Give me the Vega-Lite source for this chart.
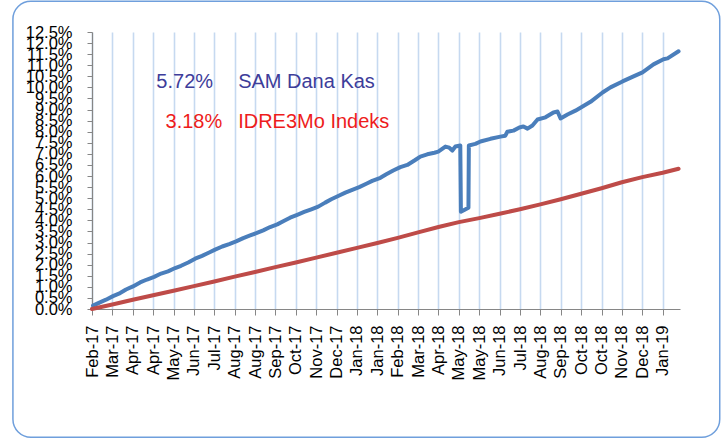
{
  "$schema": "https://vega.github.io/schema/vega-lite/v6.json",
  "autosize": "none",
  "width": 588,
  "height": 277,
  "padding": {"left": 92, "top": 32, "right": 45, "bottom": 130},
  "background": "white",
  "view": {"stroke": null},
  "config": {"font": "Liberation Sans"},
  "datasets": {
    "frame": [{"i": -3.88, "i2": 30.8, "v": 13.89, "v2": -5.79}],
    "notes": [
      {"label": "5.72%", "i": 5.94, "v": 10.23, "kind": "blue", "side": "right"},
      {"label": "SAM Dana Kas", "i": 7.17, "v": 10.23, "kind": "blue", "side": "left"},
      {"label": "3.18%", "i": 6.39, "v": 8.46, "kind": "red", "side": "right"},
      {"label": "IDRE3Mo Indeks", "i": 7.17, "v": 8.46, "kind": "red", "side": "left"}
    ],
    "series": [
      {"series": "SAM Dana Kas", "i": 0.05, "v": 0.15},
      {"series": "SAM Dana Kas", "i": 0.39, "v": 0.3},
      {"series": "SAM Dana Kas", "i": 0.69, "v": 0.42},
      {"series": "SAM Dana Kas", "i": 1.03, "v": 0.58},
      {"series": "SAM Dana Kas", "i": 1.38, "v": 0.72},
      {"series": "SAM Dana Kas", "i": 1.67, "v": 0.88},
      {"series": "SAM Dana Kas", "i": 2.01, "v": 1.02},
      {"series": "SAM Dana Kas", "i": 2.36, "v": 1.2},
      {"series": "SAM Dana Kas", "i": 2.7, "v": 1.33},
      {"series": "SAM Dana Kas", "i": 3.05, "v": 1.45},
      {"series": "SAM Dana Kas", "i": 3.39, "v": 1.6},
      {"series": "SAM Dana Kas", "i": 3.73, "v": 1.7},
      {"series": "SAM Dana Kas", "i": 4.08, "v": 1.85},
      {"series": "SAM Dana Kas", "i": 4.37, "v": 1.95},
      {"series": "SAM Dana Kas", "i": 4.72, "v": 2.1},
      {"series": "SAM Dana Kas", "i": 5.06, "v": 2.27},
      {"series": "SAM Dana Kas", "i": 5.4, "v": 2.4},
      {"series": "SAM Dana Kas", "i": 5.75, "v": 2.55},
      {"series": "SAM Dana Kas", "i": 6.04, "v": 2.68},
      {"series": "SAM Dana Kas", "i": 6.39, "v": 2.82},
      {"series": "SAM Dana Kas", "i": 6.73, "v": 2.93},
      {"series": "SAM Dana Kas", "i": 7.07, "v": 3.05},
      {"series": "SAM Dana Kas", "i": 7.42, "v": 3.2},
      {"series": "SAM Dana Kas", "i": 7.76, "v": 3.32},
      {"series": "SAM Dana Kas", "i": 8.06, "v": 3.42},
      {"series": "SAM Dana Kas", "i": 8.4, "v": 3.55},
      {"series": "SAM Dana Kas", "i": 8.74, "v": 3.7},
      {"series": "SAM Dana Kas", "i": 9.09, "v": 3.82},
      {"series": "SAM Dana Kas", "i": 9.43, "v": 3.98},
      {"series": "SAM Dana Kas", "i": 9.72, "v": 4.12},
      {"series": "SAM Dana Kas", "i": 10.07, "v": 4.25},
      {"series": "SAM Dana Kas", "i": 10.41, "v": 4.38},
      {"series": "SAM Dana Kas", "i": 10.76, "v": 4.5},
      {"series": "SAM Dana Kas", "i": 11.1, "v": 4.62},
      {"series": "SAM Dana Kas", "i": 11.44, "v": 4.8},
      {"series": "SAM Dana Kas", "i": 11.74, "v": 4.95},
      {"series": "SAM Dana Kas", "i": 12.08, "v": 5.1},
      {"series": "SAM Dana Kas", "i": 12.43, "v": 5.25},
      {"series": "SAM Dana Kas", "i": 12.77, "v": 5.38},
      {"series": "SAM Dana Kas", "i": 13.11, "v": 5.5},
      {"series": "SAM Dana Kas", "i": 13.46, "v": 5.65},
      {"series": "SAM Dana Kas", "i": 13.75, "v": 5.78},
      {"series": "SAM Dana Kas", "i": 14.15, "v": 5.92},
      {"series": "SAM Dana Kas", "i": 14.44, "v": 6.08},
      {"series": "SAM Dana Kas", "i": 14.78, "v": 6.25},
      {"series": "SAM Dana Kas", "i": 15.13, "v": 6.4},
      {"series": "SAM Dana Kas", "i": 15.47, "v": 6.5},
      {"series": "SAM Dana Kas", "i": 15.82, "v": 6.7},
      {"series": "SAM Dana Kas", "i": 16.11, "v": 6.88},
      {"series": "SAM Dana Kas", "i": 16.45, "v": 6.98},
      {"series": "SAM Dana Kas", "i": 16.8, "v": 7.05},
      {"series": "SAM Dana Kas", "i": 16.99, "v": 7.1},
      {"series": "SAM Dana Kas", "i": 17.34, "v": 7.33},
      {"series": "SAM Dana Kas", "i": 17.53, "v": 7.28},
      {"series": "SAM Dana Kas", "i": 17.68, "v": 7.15},
      {"series": "SAM Dana Kas", "i": 17.83, "v": 7.33},
      {"series": "SAM Dana Kas", "i": 18.07, "v": 7.38},
      {"series": "SAM Dana Kas", "i": 18.1, "v": 4.39},
      {"series": "SAM Dana Kas", "i": 18.47, "v": 4.57},
      {"series": "SAM Dana Kas", "i": 18.49, "v": 7.38},
      {"series": "SAM Dana Kas", "i": 18.81, "v": 7.45},
      {"series": "SAM Dana Kas", "i": 19.06, "v": 7.56},
      {"series": "SAM Dana Kas", "i": 19.55, "v": 7.68},
      {"series": "SAM Dana Kas", "i": 20.04, "v": 7.78},
      {"series": "SAM Dana Kas", "i": 20.28, "v": 7.82},
      {"series": "SAM Dana Kas", "i": 20.38, "v": 8.0},
      {"series": "SAM Dana Kas", "i": 20.68, "v": 8.05},
      {"series": "SAM Dana Kas", "i": 20.97, "v": 8.19},
      {"series": "SAM Dana Kas", "i": 21.17, "v": 8.24},
      {"series": "SAM Dana Kas", "i": 21.37, "v": 8.14},
      {"series": "SAM Dana Kas", "i": 21.61, "v": 8.28},
      {"series": "SAM Dana Kas", "i": 21.86, "v": 8.55},
      {"series": "SAM Dana Kas", "i": 22.25, "v": 8.65},
      {"series": "SAM Dana Kas", "i": 22.64, "v": 8.87},
      {"series": "SAM Dana Kas", "i": 22.84, "v": 8.91},
      {"series": "SAM Dana Kas", "i": 22.99, "v": 8.6},
      {"series": "SAM Dana Kas", "i": 23.33, "v": 8.78},
      {"series": "SAM Dana Kas", "i": 23.72, "v": 8.95},
      {"series": "SAM Dana Kas", "i": 24.07, "v": 9.14},
      {"series": "SAM Dana Kas", "i": 24.46, "v": 9.35},
      {"series": "SAM Dana Kas", "i": 25.05, "v": 9.77},
      {"series": "SAM Dana Kas", "i": 25.44, "v": 10.0},
      {"series": "SAM Dana Kas", "i": 26.03, "v": 10.27},
      {"series": "SAM Dana Kas", "i": 26.57, "v": 10.5},
      {"series": "SAM Dana Kas", "i": 27.01, "v": 10.68},
      {"series": "SAM Dana Kas", "i": 27.55, "v": 11.04},
      {"series": "SAM Dana Kas", "i": 28.04, "v": 11.27},
      {"series": "SAM Dana Kas", "i": 28.24, "v": 11.31},
      {"series": "SAM Dana Kas", "i": 28.78, "v": 11.63},
      {"series": "IDRE3Mo Indeks", "i": 0.0, "v": 0.0},
      {"series": "IDRE3Mo Indeks", "i": 1, "v": 0.2},
      {"series": "IDRE3Mo Indeks", "i": 2, "v": 0.42},
      {"series": "IDRE3Mo Indeks", "i": 3, "v": 0.62},
      {"series": "IDRE3Mo Indeks", "i": 4, "v": 0.82},
      {"series": "IDRE3Mo Indeks", "i": 5, "v": 1.03},
      {"series": "IDRE3Mo Indeks", "i": 6, "v": 1.24},
      {"series": "IDRE3Mo Indeks", "i": 7, "v": 1.46},
      {"series": "IDRE3Mo Indeks", "i": 8, "v": 1.67},
      {"series": "IDRE3Mo Indeks", "i": 9, "v": 1.89},
      {"series": "IDRE3Mo Indeks", "i": 10, "v": 2.1},
      {"series": "IDRE3Mo Indeks", "i": 11, "v": 2.32},
      {"series": "IDRE3Mo Indeks", "i": 12, "v": 2.54},
      {"series": "IDRE3Mo Indeks", "i": 13, "v": 2.76},
      {"series": "IDRE3Mo Indeks", "i": 14, "v": 2.98},
      {"series": "IDRE3Mo Indeks", "i": 15, "v": 3.21},
      {"series": "IDRE3Mo Indeks", "i": 16, "v": 3.46},
      {"series": "IDRE3Mo Indeks", "i": 17, "v": 3.7},
      {"series": "IDRE3Mo Indeks", "i": 18, "v": 3.92},
      {"series": "IDRE3Mo Indeks", "i": 19, "v": 4.1},
      {"series": "IDRE3Mo Indeks", "i": 20, "v": 4.3},
      {"series": "IDRE3Mo Indeks", "i": 21, "v": 4.5},
      {"series": "IDRE3Mo Indeks", "i": 22, "v": 4.72},
      {"series": "IDRE3Mo Indeks", "i": 23, "v": 4.95},
      {"series": "IDRE3Mo Indeks", "i": 24, "v": 5.2},
      {"series": "IDRE3Mo Indeks", "i": 25, "v": 5.45},
      {"series": "IDRE3Mo Indeks", "i": 26, "v": 5.72},
      {"series": "IDRE3Mo Indeks", "i": 27, "v": 5.95},
      {"series": "IDRE3Mo Indeks", "i": 28, "v": 6.15},
      {"series": "IDRE3Mo Indeks", "i": 28.78, "v": 6.33}
    ]
  },
  "encoding": {
    "x": {
      "field": "i",
      "type": "quantitative",
      "scale": {"domain": [0, 28.85], "nice": false, "zero": false},
      "axis": {
        "title": null,
        "values": [0,1,2,3,4,5,6,7,8,9,10,11,12,13,14,15,16,17,18,19,20,21,22,23,24,25,26,27,28],
        "labelExpr": "['Feb-17','Mar-17','Apr-17','Apr-17','May-17','Jun-17','Jul-17','Aug-17','Aug-17','Sep-17','Oct-17','Nov-17','Dec-17','Jan-18','Jan-18','Feb-18','Mar-18','Apr-18','May-18','May-18','Jun-18','Jul-18','Aug-18','Sep-18','Oct-18','Oct-18','Nov-18','Dec-18','Jan-19'][datum.value]",
        "labelAngle": -90,
        "labelAlign": "right",
        "labelBaseline": "middle",
        "labelFontSize": 16.5,
        "labelFont": "Liberation Sans",
        "labelColor": "#000000",
        "labelPadding": 10,
        "labelOverlap": false,
        "labelFlush": false,
        "labelBound": false,
        "tickSize": 6,
        "tickColor": "#868686",
        "domainColor": "#868686",
        "domainWidth": 1.2,
        "grid": true,
        "gridColor": "#c6d9f0",
        "gridWidth": 1.6
      }
    },
    "y": {
      "field": "v",
      "type": "quantitative",
      "scale": {"domain": [0, 12.5], "nice": false, "zero": false},
      "axis": {
        "title": null,
        "values": [0,0.5,1,1.5,2,2.5,3,3.5,4,4.5,5,5.5,6,6.5,7,7.5,8,8.5,9,9.5,10,10.5,11,11.5,12,12.5],
        "labelExpr": "format(datum.value, '.1f') + '%'",
        "labelFontSize": 16.5,
        "labelFont": "Liberation Sans",
        "labelColor": "#000000",
        "labelPadding": 15,
        "labelOverlap": false,
        "labelFlush": false,
        "labelBound": false,
        "tickSize": 5,
        "tickColor": "#868686",
        "domainColor": "#868686",
        "domainWidth": 1.2,
        "grid": false
      }
    }
  },
  "layer": [
    {
      "data": {"name": "frame"},
      "mark": {"type": "rect", "fill": null, "fillOpacity": 0, "stroke": "#6f9fdc", "strokeWidth": 1.5, "cornerRadius": 18, "clip": false},
      "encoding": {
        "x2": {"field": "i2"},
        "y2": {"field": "v2"}
      }
    },
    {
      "data": {"name": "series"},
      "mark": {"type": "line", "strokeWidth": 4, "strokeJoin": "round", "strokeCap": "round", "clip": false},
      "encoding": {
        "color": {
          "field": "series",
          "type": "nominal",
          "scale": {"domain": ["SAM Dana Kas", "IDRE3Mo Indeks"], "range": ["#4a7ebb", "#be4b48"]},
          "legend": null
        },
        "order": {"field": "i", "type": "quantitative"}
      }
    },
    {
      "data": {"name": "notes"},
      "transform": [{"filter": "datum.side == 'right'"}],
      "mark": {"type": "text", "align": "right", "baseline": "middle", "fontSize": 20, "font": "Liberation Sans"},
      "encoding": {
        "text": {"field": "label"},
        "color": {"field": "kind", "type": "nominal", "scale": {"domain": ["blue", "red"], "range": ["#3d3d9a", "#ee1c1c"]}, "legend": null}
      }
    },
    {
      "data": {"name": "notes"},
      "transform": [{"filter": "datum.side == 'left'"}],
      "mark": {"type": "text", "align": "left", "baseline": "middle", "fontSize": 20, "font": "Liberation Sans"},
      "encoding": {
        "text": {"field": "label"},
        "color": {"field": "kind", "type": "nominal", "scale": {"domain": ["blue", "red"], "range": ["#3d3d9a", "#ee1c1c"]}, "legend": null}
      }
    }
  ],
  "resolve": {"scale": {"color": "independent"}}
}
